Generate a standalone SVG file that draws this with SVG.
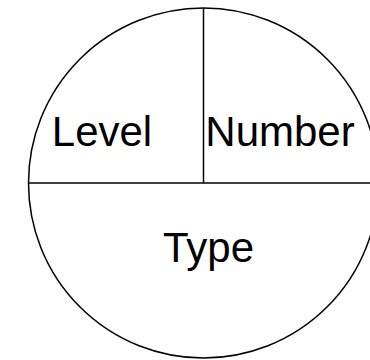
<svg xmlns="http://www.w3.org/2000/svg" width="370" height="360" viewBox="0 0 370 360">
<style>
.l{fill:none;stroke:#000;stroke-width:1.5}
.t{font-family:"Liberation Sans",Arial,sans-serif;font-size:42px;fill:#000;text-anchor:middle}
</style>
<rect width="370" height="360" fill="#fff"/>
<g id="circle"><circle class="l" cx="203.5" cy="183" r="175"/></g>
<g id="connectors">
<line class="l" x1="203.5" y1="8" x2="203.5" y2="183"/>
<line class="l" x1="28.5" y1="183" x2="378.5" y2="183"/>
</g>
<g id="level"><text class="t" x="102" y="146">Level</text></g>
<g id="number"><text class="t" x="280" y="146">Number</text></g>
<g id="type"><text class="t" x="208.5" y="262">Type</text></g>
</svg>
